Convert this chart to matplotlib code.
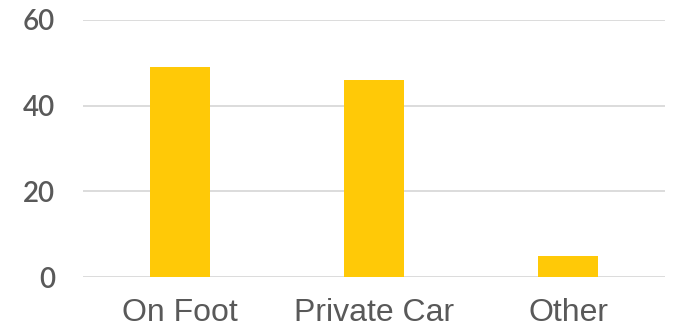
import matplotlib.pyplot as plt

categories = ['On Foot', 'Private Car', 'Other']
values = [49, 46, 5]
y_ticks = [0, 20, 40, 60]

fig = plt.figure(figsize=(6.74, 3.3), dpi=100)
ax = fig.add_axes([0.123, 0.1606, 0.864, 0.7788])

x = range(len(categories))
ax.bar(x, values, width=0.31, color='#FFC907', zorder=3)

ax.set_xlim(-0.5, len(categories) - 0.5)
ax.set_ylim(0, 60)
ax.set_yticks(y_ticks)
ax.set_xticks(list(x))
ax.set_xticklabels(categories, fontsize=23, color='#595959', family='Liberation Sans')
for lbl in ax.get_yticklabels():
    lbl.set_fontsize(20)
    lbl.set_color('#595959')
    lbl.set_family('Lato')
    lbl.set_weight('semibold')

# light horizontal grid, no frame
ax.grid(True, axis='y', color='#D9D9D9', linewidth=1.3, zorder=0)
for s in ax.spines.values():
    s.set_visible(False)
ax.tick_params(axis='both', length=0)
ax.tick_params(axis='y', pad=20)
ax.tick_params(axis='x', pad=15)

plt.savefig('out.png', dpi=100)
